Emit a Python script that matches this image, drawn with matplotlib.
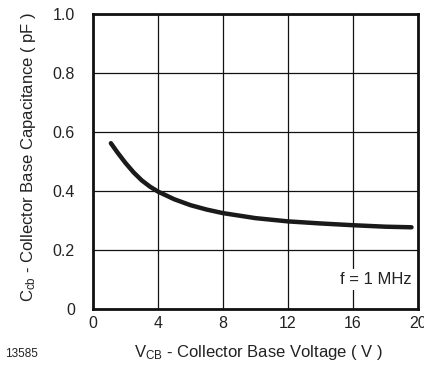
import matplotlib
matplotlib.use("Agg")
import matplotlib.pyplot as plt

plt.rcParams['font.family'] = ['Liberation Sans', 'DejaVu Sans']
plt.rcParams['mathtext.fontset'] = 'custom'
plt.rcParams['mathtext.rm'] = 'Liberation Sans'
plt.rcParams['mathtext.it'] = 'Liberation Sans'

voltage = [1.1, 1.5, 2.0, 2.5, 3.0, 3.5, 4.0, 5.0, 6.0, 7.0, 8.0, 10.0, 12.0, 14.0, 16.0, 18.0, 19.6]
capacitance = [0.562, 0.531, 0.495, 0.463, 0.436, 0.415, 0.398, 0.372, 0.352, 0.337, 0.325,
               0.308, 0.297, 0.29, 0.284, 0.279, 0.277]
xticks = [0, 4, 8, 12, 16, 20]
yticks = [0, 0.2, 0.4, 0.6, 0.8, 1.0]
yticklabels = ['0', '0.2', '0.4', '0.6', '0.8', '1.0']

fig = plt.figure(figsize=(4.24, 3.66), dpi=100)
ax = fig.add_axes([93/424, 57/366, 325/424, 295/366])
ax.plot(voltage, capacitance, color='#1a1a1a', lw=3.2, solid_capstyle='round', zorder=3)
ax.set_xlim(0, 20)
ax.set_ylim(0, 1.0)
ax.set_xticks(xticks)
ax.set_xticklabels([str(t) for t in xticks])
ax.set_yticks(yticks)
ax.set_yticklabels(yticklabels)
ax.tick_params(axis='y', length=0, labelsize=11.5, colors='#222222', pad=13)
ax.tick_params(axis='x', length=0, labelsize=11.5, colors='#222222', pad=5)
ax.grid(True, color='#111111', lw=0.9)
for s in ax.spines.values():
    s.set_linewidth(2)
    s.set_color('#111111')
ax.set_xlabel(r'V$_{\mathregular{CB}}$ - Collector Base Voltage ( V )', fontsize=12, color='#222222')
ax.set_ylabel(r'C$_{\mathregular{cb}}$ - Collector Base Capacitance ( pF )', fontsize=12, color='#222222')
ax.xaxis.set_label_coords(0.51, -0.115)
ax.yaxis.set_label_coords(-0.17, 0.515)
ax.text(19.6, 0.1, 'f = 1 MHz', ha='right', va='center', fontsize=12, color='#222222',
        bbox=dict(facecolor='white', edgecolor='none', pad=2), zorder=4)
fig.text(5/424, 1 - 354/366, '13585', fontsize=8.5, color='#222222', va='center')
fig.savefig('out.png', dpi=100)
